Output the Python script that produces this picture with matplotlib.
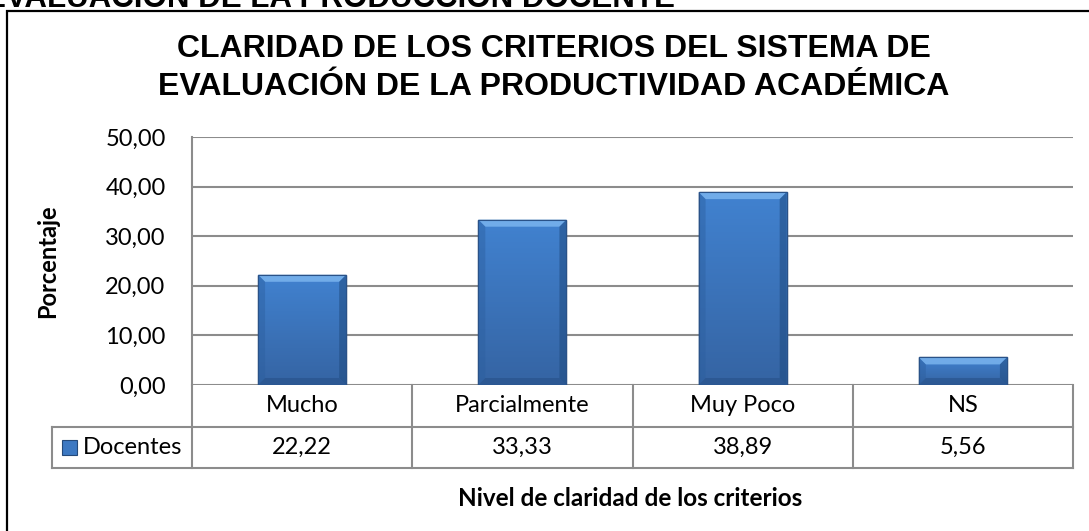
import numpy as np
import matplotlib.pyplot as plt
from matplotlib.patches import Rectangle, Polygon
from matplotlib.colors import LinearSegmentedColormap

# datos
categorias = ['Mucho', 'Parcialmente', 'Muy Poco', 'NS']
docentes = [22.22, 33.33, 38.89, 5.56]
serie = 'Docentes'
yticks = [0, 10, 20, 30, 40, 50]

W, H = 1089, 531
fig = plt.figure(figsize=(W / 100, H / 100), dpi=100)
fig.patch.set_facecolor('white')

# ejes en pixeles de la imagen
x0, x1, ytop, ybot = 192, 1073, 137, 385
ax = fig.add_axes([x0 / W, 1 - ybot / H, (x1 - x0) / W, (ybot - ytop) / H])
ax.set_xlim(-0.5, 3.5)
ax.set_ylim(0, 50)

fuente = 'Lato'
fs = 17

# marco exterior y titulo cortado de la pagina
fig.add_artist(Rectangle((7 / W, -0.05), 1.1, 1 - 11 / H + 0.05, transform=fig.transFigure,
                         fill=False, edgecolor='black', linewidth=1.6))
fig.text(675 / W, 1 - 7 / H, 'EVALUACIÓN DE LA PRODUCCIÓN DOCENTE', ha='right', va='baseline',
         fontsize=22.5, fontweight='bold', family='Liberation Sans')

fig.text(554 / W, 1 - 68 / H,
         'CLARIDAD DE LOS CRITERIOS DEL SISTEMA DE\nEVALUACIÓN DE LA PRODUCTIVIDAD ACADÉMICA',
         ha='center', va='center', fontsize=23, fontweight='bold', family='Liberation Sans',
         linespacing=1.32)

grid_c = '#8c8c8c'
for v in yticks:
    ax.axhline(v, color=grid_c, linewidth=1.5, zorder=1)
for s in ['top', 'right', 'bottom']:
    ax.spines[s].set_visible(False)
ax.spines['left'].set_color(grid_c)
ax.spines['left'].set_linewidth(1.5)
ax.set_xticks([])
ax.set_yticks(yticks)
ax.set_yticklabels([('%.2f' % v).replace('.', ',') for v in yticks], family=fuente, fontsize=fs)
ax.yaxis.set_tick_params(length=0, pad=19)
ax.set_ylabel('Porcentaje', family=fuente, fontweight='bold', fontsize=17)
ax.yaxis.set_label_coords((59 - x0) / (x1 - x0), 0.5)

# barras con degradado y bisel
ancho = 0.4
grad = np.linspace(0, 1, 100).reshape(-1, 1)
cmap = LinearSegmentedColormap.from_list('b', ['#3564a3', '#4182d0'])
bars = ax.bar(range(len(categorias)), docentes, width=ancho, color='#3c78c2',
              edgecolor='#24497a', linewidth=1.0, zorder=3)
ux = 1.0 / 220
uy = 50.0 / (ybot - ytop)
bev = 7
for b in bars:
    bx, by, bw, bh = b.get_x(), b.get_y(), b.get_width(), b.get_height()
    im = ax.imshow(grad, extent=[bx, bx + bw, by, by + bh], aspect='auto', cmap=cmap,
                   origin='lower', zorder=3)
    im.set_clip_path(b)
    dx, dy = bev * ux, bev * uy
    dy = min(dy, bh / 2)
    top = Polygon([[bx, by + bh], [bx + bw, by + bh], [bx + bw - dx, by + bh - dy],
                   [bx + dx, by + bh - dy]], closed=True, facecolor='#7ab4ee', edgecolor='none',
                  alpha=0.85, zorder=4)
    izq = Polygon([[bx, by], [bx, by + bh], [bx + dx, by + bh - dy], [bx + dx, by + dy]],
                  closed=True, facecolor='#2c5f9f', edgecolor='none', alpha=0.45, zorder=4)
    der = Polygon([[bx + bw, by], [bx + bw, by + bh], [bx + bw - dx, by + bh - dy],
                   [bx + bw - dx, by + dy]], closed=True, facecolor='#1f4b80', edgecolor='none',
                  alpha=0.55, zorder=4)
    aba = Polygon([[bx, by], [bx + bw, by], [bx + bw - dx, by + dy], [bx + dx, by + dy]],
                  closed=True, facecolor='#254f86', edgecolor='none', alpha=0.55, zorder=4)
    for p in (top, izq, der, aba):
        ax.add_patch(p)
    ax.add_patch(Rectangle((bx, by), bw, bh, fill=False, edgecolor='#2a5288', linewidth=0.8,
                           zorder=5))

# tabla de datos debajo del eje
r1 = -(427 - ybot) * uy
r2 = -(468 - ybot) * uy
xl = (52 - x0) * ux - 0.5
lk = dict(color=grid_c, linewidth=1.5, clip_on=False, zorder=2)
ax.plot([xl, 3.5], [r1, r1], **lk)
ax.plot([xl, 3.5], [r2, r2], **lk)
ax.plot([xl, xl], [r1, r2], **lk)
for i in range(len(categorias) + 1):
    ax.plot([i - 0.5, i - 0.5], [0, r2], **lk)
for i, c in enumerate(categorias):
    ax.text(i, r1 / 2, c, ha='center', va='center', family=fuente, fontsize=fs)
    ax.text(i, (r1 + r2) / 2, ('%.2f' % docentes[i]).replace('.', ','), ha='center',
            va='center', family=fuente, fontsize=fs)
ax.text((83 - x0) * ux - 0.5, (r1 + r2) / 2, serie, ha='left', va='center', family=fuente,
        fontsize=fs)
mk = (62 - x0) * ux - 0.5
ax.add_patch(Rectangle((mk, (r1 + r2) / 2 - 7 * uy), 15 * ux, 15 * uy, facecolor='#3c78c2',
                       edgecolor='#24497a', linewidth=0.8, clip_on=False, zorder=3))

fig.text(630 / W, 1 - 498 / H, 'Nivel de claridad de los criterios', ha='center', va='center',
         family=fuente, fontweight='bold', fontsize=17.5)

plt.savefig('out.png', dpi=100)
